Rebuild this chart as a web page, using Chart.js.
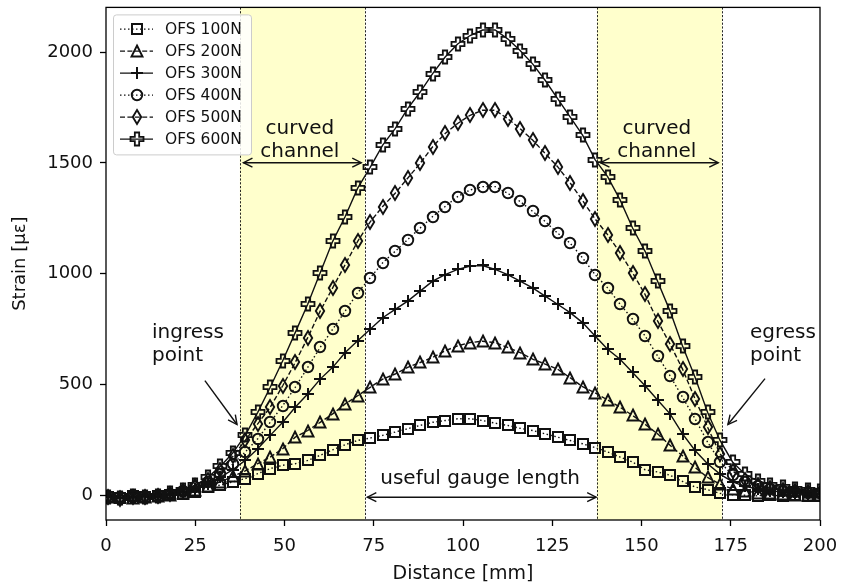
<!DOCTYPE html>
<html><head><meta charset="utf-8">
<script src="https://cdn.jsdelivr.net/npm/chart.js@4"></script>
<style>html,body{margin:0;padding:0;background:#fff;}#wrap{width:843px;height:587px;}</style>
</head><body><div id="wrap"><canvas id="c" width="843" height="587"></canvas></div>
<script>
const distance = [0.5,4,7.5,11,14.5,18,21.5,25,28.5,32,35.5,39,42.5,46,49.5,53,56.5,60,63.5,67,70.5,74,77.5,81,84.5,88,91.5,95,98.5,102,105.5,109,112.5,116,119.5,123,126.5,130,133.5,137,140.5,144,147.5,151,154.5,158,161.5,165,168.5,172,175.5,179,182.5,186,189.5,193,196.5,200];
const ofs100N = [-8,-12,-5,-10,-4,0,6,15,37,45,60,75,97,120,135,142,157,180,205,228,247,258,270,285,300,315,329,337,345,345,337,325,315,302,292,277,262,247,232,215,195,172,150,115,105,90,62,37,25,8,2,0,-3,2,-5,0,-4,-2];
const ofs200N = [-10,-6,-14,-8,-3,2,12,25,40,60,85,110,142,172,210,262,292,329,367,412,449,487,524,547,577,599,622,652,674,689,695,689,667,644,614,592,569,530,490,462,430,397,360,320,277,225,178,125,80,50,28,18,12,8,5,3,0,2];
const ofs300N = [-6,-12,-8,-4,-9,3,15,30,50,80,115,157,210,270,329,397,457,524,577,644,697,749,801,839,876,921,966,996,1019,1034,1037,1019,996,966,936,899,862,824,779,719,659,614,554,494,430,367,277,202,142,95,60,40,28,20,14,10,6,4];
const ofs400N = [-12,-8,-4,-14,-6,4,18,35,60,95,140,195,255,329,404,487,577,667,749,831,914,981,1049,1101,1154,1206,1258,1303,1348,1378,1393,1393,1363,1326,1281,1236,1183,1138,1071,996,936,862,794,719,629,539,442,345,240,150,90,58,40,28,20,15,10,8];
const ofs500N = [-9,-15,-6,-10,-2,6,20,40,70,115,175,247,322,397,494,599,711,831,936,1041,1146,1234,1303,1363,1431,1498,1573,1633,1678,1715,1738,1738,1700,1655,1603,1543,1483,1410,1330,1247,1176,1094,1004,906,787,682,569,435,307,187,110,68,45,32,24,18,14,10];
const ofs600N = [-7,-11,-3,-9,-5,8,25,45,80,130,190,270,374,487,607,734,862,1004,1146,1258,1386,1480,1580,1655,1745,1820,1903,1978,2037,2075,2100,2100,2060,2007,1947,1873,1790,1708,1625,1515,1438,1333,1206,1101,966,831,674,532,374,247,150,95,65,48,38,30,24,18];
const seriesNames = ['OFS 100N','OFS 200N','OFS 300N','OFS 400N','OFS 500N','OFS 600N'];
const xTickValues = [0,25,50,75,100,125,150,175,200];
const yTickValues = [0,500,1000,1500,2000];
const curvedSpans = [[37.5,72.5],[137.5,172.5]];
const noteTexts = [['curved','channel'],['curved','channel'],['useful gauge length'],['ingress','point'],['egress','point']];
const noteX = [54.3,154.3,104.8,12.9,180.4];
const noteY = [1655,1655,76,733,733];
const noteAlign = ['center','center','center','left','left'];
const arrowFrom = [[38.5,1501],[138.5,1501],[73.2,-9],[27.7,517],[184.6,526]];
const arrowTo = [[71.5,1501],[171.5,1501],[137.3,-9],[36.7,319],[174.2,319]];
const arrowBoth = [true,true,true,false,false];

const FONT = "'DejaVu Sans', sans-serif";
const INK = '#111111';

function markerCanvas(kind, size, lw) {
  const n = 20;
  const c = document.createElement('canvas');
  c.width = n; c.height = n;
  const g = c.getContext('2d');
  const m = n / 2, h = size / 2;
  g.strokeStyle = INK; g.lineWidth = lw; g.lineJoin = 'miter';
  g.beginPath();
  if (kind === 'square') { g.rect(m - h, m - h, 2 * h, 2 * h); }
  else if (kind === 'triangle') { g.moveTo(m, m - h); g.lineTo(m + h, m + h); g.lineTo(m - h, m + h); g.closePath(); }
  else if (kind === 'plus') { g.moveTo(m - h, m); g.lineTo(m + h, m); g.moveTo(m, m - h); g.lineTo(m, m + h); }
  else if (kind === 'circle') { g.arc(m, m, h, 0, Math.PI * 2); }
  else if (kind === 'thindiamond') { g.moveTo(m, m - h); g.lineTo(m + 0.6 * h, m); g.lineTo(m, m + h); g.lineTo(m - 0.6 * h, m); g.closePath(); }
  else if (kind === 'plusfilled') {
    const t = size / 6;
    g.moveTo(m - t, m - h); g.lineTo(m + t, m - h); g.lineTo(m + t, m - t); g.lineTo(m + h, m - t);
    g.lineTo(m + h, m + t); g.lineTo(m + t, m + t); g.lineTo(m + t, m + h); g.lineTo(m - t, m + h);
    g.lineTo(m - t, m + t); g.lineTo(m - h, m + t); g.lineTo(m - h, m - t); g.lineTo(m - t, m - t); g.closePath();
  }
  g.stroke();
  return c;
}

const styles = [
  { marker: markerCanvas('square', 10, 2), dash: [1.5, 2.5] },
  { marker: markerCanvas('triangle', 11, 1.9), dash: [5, 2.4] },
  { marker: markerCanvas('plus', 12, 2), dash: [] },
  { marker: markerCanvas('circle', 10.5, 1.9), dash: [1.5, 2.5] },
  { marker: markerCanvas('thindiamond', 14, 1.9), dash: [5, 2.4] },
  { marker: markerCanvas('plusfilled', 13, 1.8), dash: [] }
];

const seriesValues = [ofs100N, ofs200N, ofs300N, ofs400N, ofs500N, ofs600N];
const datasets = seriesValues.map((vals, k) => ({
  label: seriesNames[k],
  data: vals.map((v, i) => ({ x: distance[i], y: v })),
  borderColor: INK, borderWidth: 1.4, borderDash: styles[k].dash,
  pointStyle: styles[k].marker, pointRadius: 6, pointHoverRadius: 6,
  fill: false, tension: 0
}));

function drawArrowHead(ctx, x0, y0, x1, y1) {
  const ang = Math.atan2(y1 - y0, x1 - x0), L = 9, W = 4.5;
  ctx.beginPath();
  ctx.moveTo(x1 - L * Math.cos(ang) + W * Math.sin(ang), y1 - L * Math.sin(ang) - W * Math.cos(ang));
  ctx.lineTo(x1, y1);
  ctx.lineTo(x1 - L * Math.cos(ang) - W * Math.sin(ang), y1 - L * Math.sin(ang) + W * Math.cos(ang));
  ctx.stroke();
}

const decor = {
  id: 'decor',
  beforeDatasetsDraw(chart) {
    const { ctx, chartArea: a, scales: { x } } = chart;
    ctx.imageSmoothingEnabled = false;
    ctx.save();
    ctx.fillStyle = 'rgba(255,255,0,0.2)';
    curvedSpans.forEach(([v0, v1]) => {
      const p0 = x.getPixelForValue(v0), p1 = x.getPixelForValue(v1);
      ctx.fillRect(p0, a.top, p1 - p0, a.bottom - a.top);
    });
    ctx.strokeStyle = INK; ctx.lineWidth = 0.9; ctx.setLineDash([2.2, 1.6]);
    curvedSpans.flat().forEach(v => {
      const p = Math.round(x.getPixelForValue(v)) + 0.5;
      ctx.beginPath(); ctx.moveTo(p, a.top); ctx.lineTo(p, a.bottom); ctx.stroke();
    });
    ctx.restore();
  },
  afterDatasetsDraw(chart) {
    const { ctx, chartArea: a, scales: { x, y } } = chart;
    ctx.save();
    ctx.strokeStyle = '#000'; ctx.lineWidth = 1.3; ctx.setLineDash([]);
    ctx.strokeRect(a.left, a.top, a.right - a.left, a.bottom - a.top);
    ctx.fillStyle = INK; ctx.font = '20px ' + FONT; ctx.textBaseline = 'middle';
    noteTexts.forEach((lines, k) => {
      ctx.textAlign = noteAlign[k];
      const px = x.getPixelForValue(noteX[k]), py = y.getPixelForValue(noteY[k]);
      lines.forEach((t, j) => ctx.fillText(t, px, py + j * 23));
    });
    ctx.strokeStyle = INK; ctx.lineWidth = 1.4;
    arrowFrom.forEach((f, k) => {
      const x0 = x.getPixelForValue(f[0]), y0 = y.getPixelForValue(f[1]);
      const x1 = x.getPixelForValue(arrowTo[k][0]), y1 = y.getPixelForValue(arrowTo[k][1]);
      ctx.beginPath(); ctx.moveTo(x0, y0); ctx.lineTo(x1, y1); ctx.stroke();
      drawArrowHead(ctx, x0, y0, x1, y1);
      if (arrowBoth[k]) drawArrowHead(ctx, x1, y1, x0, y0);
    });
    const lx = a.left + 7, ly = a.top + 7, lw = 138, lh = 140;
    ctx.beginPath();
    ctx.roundRect(lx + 0.5, ly + 0.5, lw, lh, 3);
    ctx.fillStyle = 'rgba(255,255,255,0.85)'; ctx.fill();
    ctx.strokeStyle = '#cccccc'; ctx.lineWidth = 1; ctx.stroke();
    ctx.font = '15.5px ' + FONT; ctx.textAlign = 'left'; ctx.textBaseline = 'middle';
    datasets.forEach((d, k) => {
      const ry = a.top + 21.7 + k * 22;
      ctx.strokeStyle = INK; ctx.lineWidth = 1.4; ctx.setLineDash(styles[k].dash);
      ctx.beginPath(); ctx.moveTo(a.left + 14, ry); ctx.lineTo(a.left + 47, ry); ctx.stroke();
      ctx.setLineDash([]);
      const mk = styles[k].marker;
      ctx.drawImage(mk, Math.round(a.left + 30.5 - mk.width / 2), Math.round(ry - mk.height / 2));
      ctx.fillStyle = INK;
      ctx.fillText(d.label, a.left + 59, ry + 1);
    });
    ctx.restore();
  }
};

new Chart(document.getElementById('c'), {
  type: 'line',
  data: { datasets },
  options: {
    responsive: false, animation: false, devicePixelRatio: 1,
    layout: { padding: { left: 0, right: 23, top: 5, bottom: 0 } },
    plugins: { legend: { display: false }, tooltip: { enabled: false } },
    scales: {
      x: {
        type: 'linear', min: 0, max: 200,
        afterFit: s => { s.height = 67; s.paddingLeft = 0; s.paddingRight = 0; },
        afterBuildTicks: s => { s.ticks = xTickValues.map(v => ({ value: v })); },
        grid: { drawOnChartArea: false, drawTicks: true, tickLength: 6, tickColor: '#000', tickWidth: 1.3 },
        border: { display: false },
        ticks: { color: INK, font: { family: FONT, size: 18 }, padding: 10, maxRotation: 0, callback: v => String(v) },
        title: { display: true, text: 'Distance [mm]', color: INK, font: { family: FONT, size: 19 }, padding: { top: 0, bottom: 2 } }
      },
      y: {
        type: 'linear', min: -112, max: 2202,
        afterFit: s => { s.width = 106; s.paddingTop = 0; s.paddingBottom = 0; },
        afterBuildTicks: s => { s.ticks = yTickValues.map(v => ({ value: v })); },
        grid: { drawOnChartArea: false, drawTicks: true, tickLength: 6, tickColor: '#000', tickWidth: 1.3 },
        border: { display: false },
        ticks: { color: INK, font: { family: FONT, size: 18 }, padding: 7, callback: v => String(v) },
        title: { display: true, text: 'Strain [µε]', color: INK, font: { family: FONT, size: 18 }, padding: { top: 10, bottom: 0 } }
      }
    }
  },
  plugins: [decor]
});
</script></body></html>
